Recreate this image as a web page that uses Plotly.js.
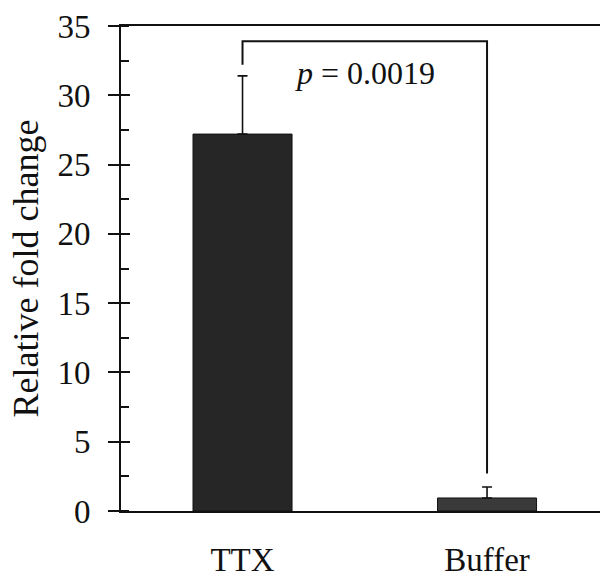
<!DOCTYPE html>
<html>
<head>
<meta charset="utf-8">
<script src="https://cdn.plot.ly/plotly-3.0.1.min.js"></script>
<style>html,body{margin:0;padding:0;background:#fff;}#chart{width:600px;height:579px;}</style>
</head>
<body>
<div id="chart"></div>
<script>
// Data
const categories = ["TTX", "Buffer"];
const foldChange = [27.2, 0.94];
const errorUp = [4.2, 0.79];
const barColors = ["#262626", "#3a3a3a"];
const yTicks = [0, 5, 10, 15, 20, 25, 30, 35];
// significance bracket (x positions are categories, y in fold-change units)
const bracketX = ["TTX", "TTX", "Buffer", "Buffer"];
const bracketY = [32.2, 33.9, 33.9, 2.7];
const pLabel = "<i>p</i> = 0.0019";
const pLabelPos = {x: 0.5, y: 31.6};

const font = "Liberation Serif, Times New Roman, serif";

const traces = [
  {
    type: "bar",
    x: categories,
    y: foldChange,
    width: 0.405,
    marker: {color: barColors, line: {color: "#111", width: 1}},
    error_y: {type: "data", symmetric: false, array: errorUp, arrayminus: [0, 0],
              color: "#111", thickness: 1.6, width: 5},
    hoverinfo: "skip",
    showlegend: false
  },
  {
    type: "scatter",
    mode: "lines",
    x: bracketX,
    y: bracketY,
    line: {color: "#111", width: 2},
    hoverinfo: "skip",
    showlegend: false
  },
  {
    // invisible trace to host inner halves of major ticks
    type: "scatter", mode: "markers",
    x: [categories[0]], y: [0], yaxis: "y2",
    marker: {opacity: 0}, hoverinfo: "skip", showlegend: false
  }
];

const layout = {
  width: 600, height: 579,
  margin: {l: 121, r: 0, t: 26, b: 68},
  paper_bgcolor: "#fff", plot_bgcolor: "#fff",
  font: {family: font, color: "#111", size: 33},
  xaxis: {
    type: "category",
    range: [-0.497, 1.462],
    showline: true, linecolor: "#111", linewidth: 2,
    mirror: true,
    ticks: "", showgrid: false, zeroline: false,
    tickfont: {family: font, size: 33, color: "#111"},
    ticklabelstandoff: 18
  },
  yaxis: {
    range: [0, 35],
    tickvals: yTicks,
    ticks: "outside", ticklen: 11, tickwidth: 2, tickcolor: "#111",
    showline: true, linecolor: "#111", linewidth: 2,
    showgrid: false, zeroline: false,
    tickfont: {family: font, size: 33, color: "#111"},
    ticklabelstandoff: 11,
    minor: {dtick: 2.5, tick0: 0, ticks: "inside", ticklen: 8, tickwidth: 2, tickcolor: "#111", showgrid: false},
    title: {text: "Relative fold change", font: {family: font, size: 36, color: "#111"}, standoff: 8}
  },
  yaxis2: {
    overlaying: "y", side: "left", range: [0, 35],
    tickvals: yTicks, ticks: "inside", ticklen: 9, tickwidth: 2, tickcolor: "#111",
    showticklabels: false, showline: false, showgrid: false, zeroline: false
  },
  annotations: [{
    x: pLabelPos.x, y: pLabelPos.y, xref: "x", yref: "y",
    text: pLabel, showarrow: false,
    font: {family: font, size: 32, color: "#111"}
  }]
};

Plotly.newPlot("chart", traces, layout, {displayModeBar: false, staticPlot: true});
</script>
</body>
</html>
